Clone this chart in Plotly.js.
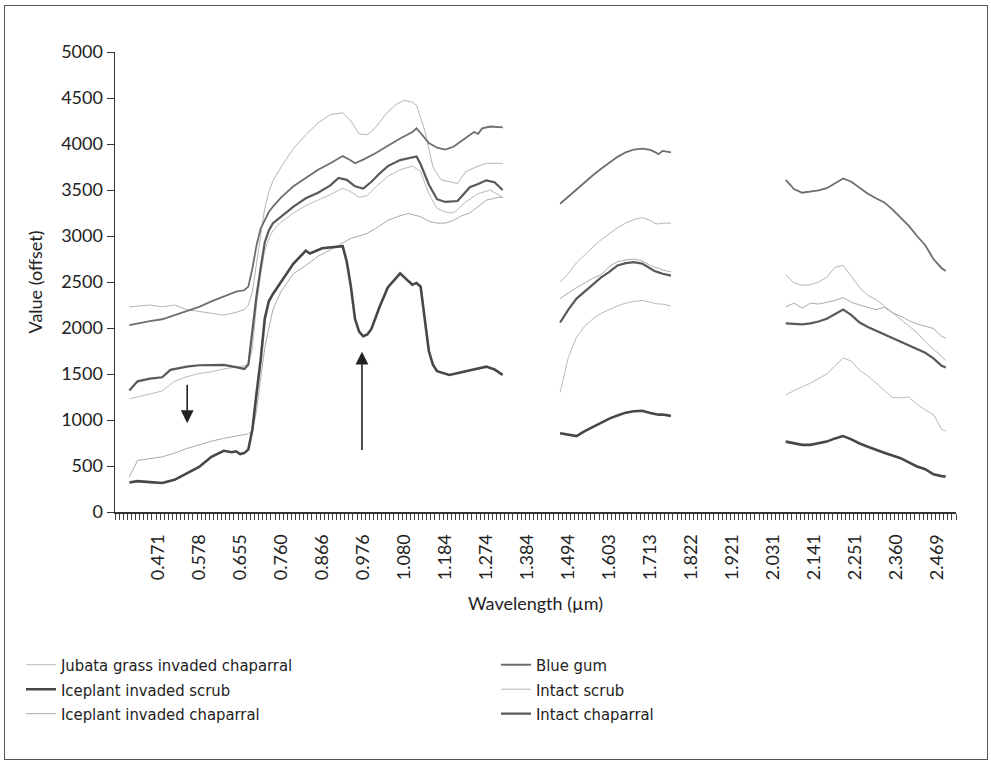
<!DOCTYPE html>
<html>
<head>
<meta charset="utf-8">
<script src="https://cdn.plot.ly/plotly-3.0.1.min.js"></script>
<style>
html,body{margin:0;padding:0;background:#fff;}
#wrap{position:relative;width:991px;height:763px;}
#chart{width:991px;height:763px;}
#frame{position:absolute;left:4px;top:5px;width:982px;height:753px;border:1.5px solid #555;pointer-events:none;}
</style>
</head>
<body>
<div id="wrap"><div id="chart"></div><div id="frame"></div></div>
<script>
// ---- x axis: band index (category position) and wavelength tick labels ----
const tickBands  = [10,20,30,40,50,60,70,80,90,100,110,120,130,140,150,160,170,180,190,200];
const tickLabels = ['0.471','0.578','0.655','0.760','0.866','0.976','1.080','1.184','1.274','1.384',
                    '1.494','1.603','1.713','1.822','1.921','2.031','2.141','2.251','2.360','2.469'];

// shared band grids of the two SWIR segments
const bandsSwir1 = [108,110,112,114,116,118,120,122,124,126,128,130,131,132,133,135];
const bandsSwir2 = [163,165,167,169,171,173,175,177,179,181,183,185,187,189,191,193,195,197,199,201,202];

// ---- Jubata grass invaded chaparral ----
const jubataVnirBands = [3,5,8,11,14,17,20,23,26,29,31,32,33,34,35,36,37,38,40,43,46,49,52,55,57,59,61,63,66,69,72,74,76,78,80,82,85,88,91,94];
const jubataVnir  = [1230,1250,1280,1315,1420,1470,1505,1525,1555,1580,1590,1610,1780,2250,2580,2840,2970,3060,3150,3250,3330,3390,3450,3520,3480,3420,3440,3530,3650,3720,3760,3700,3460,3300,3260,3250,3370,3460,3500,3420];
const jubataSwir1 = [1300,1680,1900,2020,2100,2160,2200,2240,2270,2290,2300,2280,2270,2260,2260,2240];
const jubataSwir2 = [1270,1320,1360,1400,1450,1500,1590,1675,1640,1540,1480,1400,1320,1245,1240,1250,1170,1110,1060,900,880];

// ---- Blue gum ----
const blueGumVnirBands = [3,5,8,11,14,17,20,23,26,29,31,32,33,34,35,36,37,38,40,43,46,49,52,55,57,58,60,63,66,69,72,73,74,76,78,80,82,85,87,88,89,91,94];
const blueGumVnir  = [2030,2050,2075,2095,2140,2190,2230,2290,2340,2395,2410,2450,2650,2900,3080,3180,3260,3320,3420,3540,3630,3720,3790,3870,3820,3790,3830,3900,3980,4060,4130,4170,4120,4010,3960,3940,3970,4070,4130,4110,4170,4190,4180];
const blueGumSwir1 = [3350,3430,3500,3580,3660,3730,3800,3860,3910,3940,3950,3935,3915,3890,3925,3910];
const blueGumSwir2 = [3610,3510,3470,3480,3495,3520,3570,3625,3590,3525,3460,3410,3365,3290,3200,3110,3000,2900,2750,2650,2620];

// ---- Iceplant invaded scrub ----
const iceScrubVnirBands = [3,5,8,11,14,17,20,23,26,28,29,30,31,32,33,34,35,36,37,38,40,43,46,47,50,53,55,56,57,58,59,60,61,62,64,66,69,71,72,73,74,75,76,77,78,81,84,88,90,92,94];
const iceScrubVnir  = [320,335,325,315,350,420,490,600,665,650,660,630,640,680,900,1290,1650,2100,2290,2370,2500,2700,2840,2810,2866,2880,2890,2720,2450,2100,1960,1910,1930,1990,2230,2440,2594,2510,2470,2490,2450,2100,1750,1600,1530,1490,1520,1560,1580,1550,1490];
const iceScrubSwir1 = [857,845,825,880,925,970,1015,1050,1080,1095,1100,1075,1065,1058,1060,1045];
const iceScrubSwir2 = [765,745,730,730,745,765,800,825,790,745,710,675,645,615,585,540,495,465,410,390,385];

// ---- Intact scrub ----
const scrubVnirBands = [3,5,8,11,14,17,20,23,26,29,31,32,33,34,35,36,37,38,40,43,46,49,52,55,57,59,61,63,66,68,70,72,73,75,77,79,83,85,88,90,94];
const scrubVnir  = [2230,2240,2250,2230,2250,2200,2180,2160,2140,2170,2200,2250,2400,2700,3000,3300,3480,3600,3750,3950,4100,4230,4320,4340,4250,4110,4100,4180,4350,4430,4475,4455,4420,4150,3750,3610,3570,3700,3760,3790,3790];
const scrubSwir1 = [2500,2590,2710,2800,2880,2960,3030,3090,3140,3180,3200,3170,3140,3130,3140,3140];
const scrubSwir2 = [2580,2490,2465,2470,2500,2550,2660,2680,2560,2440,2355,2310,2240,2170,2100,2020,1950,1850,1770,1680,1650];

// ---- Iceplant invaded chaparral ----
const iceChapVnirBands = [3,4,5,8,11,14,17,20,23,26,29,31,32,33,34,35,36,37,38,40,43,46,49,52,55,57,59,61,63,66,69,71,74,76,78,80,82,84,86,88,90,93,94];
const iceChapVnir  = [380,480,560,580,600,640,690,730,770,800,825,835,850,880,1100,1450,1780,2000,2200,2400,2590,2680,2780,2850,2930,2975,3000,3030,3080,3170,3220,3245,3210,3160,3140,3140,3170,3220,3250,3320,3390,3420,3420];
const iceChapSwir1 = [2320,2380,2440,2490,2540,2580,2670,2720,2740,2750,2730,2680,2660,2650,2630,2610];
const iceChapSwir2 = [2230,2270,2215,2270,2260,2280,2300,2330,2280,2250,2225,2200,2225,2165,2130,2080,2045,2020,1995,1910,1890];

// ---- Intact chaparral ----
const chapVnirBands = [3,5,8,11,13,17,20,23,26,29,31,32,33,34,35,36,37,38,40,43,46,49,52,54,56,58,60,62,64,66,69,72,73,74,76,78,80,83,84,86,88,90,92,94];
const chapVnir  = [1320,1420,1450,1465,1545,1580,1595,1600,1600,1575,1555,1600,2000,2350,2650,2930,3060,3140,3210,3320,3410,3470,3550,3630,3610,3540,3515,3590,3680,3760,3825,3850,3865,3780,3560,3400,3370,3380,3430,3530,3565,3605,3585,3500];
const chapSwir1 = [2060,2200,2320,2400,2470,2550,2610,2680,2705,2715,2700,2650,2620,2605,2590,2570];
const chapSwir2 = [2050,2045,2040,2050,2070,2100,2150,2200,2140,2060,2010,1970,1930,1890,1845,1810,1770,1730,1670,1590,1570];

// arrows (band position, tail value, head value)
const arrowBands = [17.1, 59.7];
const arrowTails = [1400, 658];
const arrowHeads = [966, 1743];

function joinX(vnirBands){ return vnirBands.concat([100], bandsSwir1, [150], bandsSwir2); }
function joinY(a,b,c){ return a.concat([null], b, [null], c); }

function series(name, rank, vb, a, b, c, color, width){
  return {type:'scatter', mode:'lines', name:name, legendrank:rank,
          x: joinX(vb), y: joinY(a,b,c), connectgaps:false,
          line:{color:color, width:width}, hoverinfo:'skip'};
}

const traces = [
  series('Jubata grass invaded chaparral', 1, jubataVnirBands, jubataVnir, jubataSwir1, jubataSwir2, '#bababa', 1),
  series('Intact scrub', 4, scrubVnirBands, scrubVnir, scrubSwir1, scrubSwir2, '#b4b4b4', 1),
  series('Iceplant invaded chaparral', 5, iceChapVnirBands, iceChapVnir, iceChapSwir1, iceChapSwir2, '#ababab', 1),
  series('Blue gum', 2, blueGumVnirBands, blueGumVnir, blueGumSwir1, blueGumSwir2, '#6e6e6e', 1.8),
  series('Intact chaparral', 6, chapVnirBands, chapVnir, chapSwir1, chapSwir2, '#595959', 2.2),
  series('Iceplant invaded scrub', 3, iceScrubVnirBands, iceScrubVnir, iceScrubSwir1, iceScrubSwir2, '#474747', 2.6),
  {type:'scatter', mode:'lines', x:[tickBands[0]], y:[null], xaxis:'x2', showlegend:false, hoverinfo:'skip'}
];

const annotations = arrowBands.map((b,i)=>({
  x:b, y:arrowHeads[i], ax:b, ay:arrowTails[i], xref:'x', yref:'y', axref:'x', ayref:'y',
  text:'', showarrow:true, arrowhead:2, arrowsize:1.6, arrowwidth:1.6, arrowcolor:'#222'
}));

const layout = {
  width:991, height:763,
  margin:{l:115, r:35, t:52, b:251, pad:0, autoexpand:false},
  paper_bgcolor:'#ffffff', plot_bgcolor:'#ffffff',
  font:{family:'Lato, "Open Sans", sans-serif', color:'#222', size:18},
  xaxis:{range:[-0.5,204.5], tickmode:'linear', tick0:-0.5, dtick:1, ticks:'outside', ticklen:6,
         tickwidth:1, tickcolor:'#444', showticklabels:false, showline:true, linecolor:'#333',
         linewidth:1.5, showgrid:false, zeroline:false, fixedrange:true, automargin:false},
  xaxis2:{overlaying:'x', anchor:'y', side:'bottom', range:[-0.5,204.5], tickmode:'array',
          tickvals:tickBands, ticktext:tickLabels, tickangle:-90, ticks:'outside', ticklen:14,
          tickcolor:'rgba(0,0,0,0)', showline:false, showgrid:false, zeroline:false, automargin:false,
          tickfont:{size:18, color:'#222'},
          title:{text:'Wavelength (µm)', font:{size:18, color:'#222'}, standoff:18}},
  yaxis:{range:[0,5000], tickmode:'linear', tick0:0, dtick:500, ticks:'outside', ticklen:7,
         tickcolor:'#333', showline:true, linecolor:'#333', linewidth:1.5, showgrid:false,
         zeroline:false, automargin:false, tickfont:{size:18, color:'#222'},
         title:{text:'Value (offset)', font:{size:18, color:'#222'}, standoff:14}},
  showlegend:true,
  legend:{orientation:'h', x:(21-115)/841, xanchor:'left', y:(512.3-648)/460.6, yanchor:'top',
          entrywidth:430, entrywidthmode:'pixels', traceorder:'normal',
          font:{family:'"Liberation Sans Narrow", "DejaVu Sans Condensed", sans-serif', size:16.5, color:'#222'},
          bgcolor:'rgba(0,0,0,0)'},
  annotations:annotations
};

Plotly.newPlot('chart', traces, layout, {staticPlot:true, displayModeBar:false});
</script>
</body>
</html>
